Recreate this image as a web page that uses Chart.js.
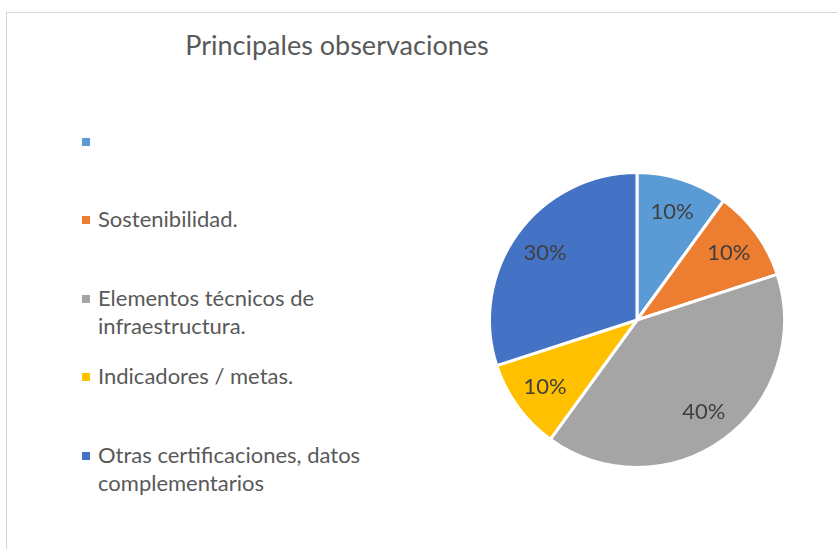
<!DOCTYPE html>
<html>
<head>
<meta charset="utf-8">
<script src="https://cdn.jsdelivr.net/npm/chart.js@4.4.1/dist/chart.umd.min.js"></script>
<style>
    html, body { margin: 0; padding: 0; background: #fff; overflow: hidden; }
    body { width: 837px; height: 549px; position: relative; font-family: Lato, "Noto Sans", sans-serif; color: #595959; }
    .frame { position: absolute; left: 6px; top: 12px; width: 900px; height: 600px; border: 1px solid #d6d6d6; box-sizing: border-box; }
    .title { position: absolute; left: 137px; top: 30px; width: 400px; text-align: center; font-size: 27px; line-height: 30px; }
    .pie-box { position: absolute; left: 478px; top: 161px; width: 318px; height: 318px; }
    .legend-item { position: absolute; left: 98px; font-size: 22px; line-height: 28px; white-space: nowrap; }
    .legend-item i { position: absolute; left: -16px; top: 11px; width: 8px; height: 8px; }
</style>
</head>
<body>
<div class="frame"></div>
<div class="title" id="title"></div>
<div id="legend"></div>
<div class="pie-box"><canvas id="pie"></canvas></div>
<script>
    "use strict";

    const chartTitle = "Principales observaciones";
    const categories = [
        [""],
        ["Sostenibilidad."],
        ["Elementos técnicos de", "infraestructura."],
        ["Indicadores / metas."],
        ["Otras certificaciones, datos", "complementarios"]
    ];
    const percentValues = [10, 10, 40, 10, 30];
    const sliceColors = ["#5B9BD5", "#ED7D31", "#A5A5A5", "#FFC000", "#4472C4"];

    document.getElementById("title").textContent = chartTitle;

    /**
     * HTML legend, one entry per category
     */
    function buildLegend() {
        const box = document.getElementById("legend");
        categories.forEach(function (lines, i) {
            const item = document.createElement("div");
            item.className = "legend-item";
            item.style.top = (141.5 + i * 78.6 - 15) + "px";
            const mark = document.createElement("i");
            mark.style.background = sliceColors[i];
            item.appendChild(mark);
            lines.forEach(function (line, j) {
                if (j > 0) item.appendChild(document.createElement("br"));
                item.appendChild(document.createTextNode(line));
            });
            box.appendChild(item);
        });
    }

    /**
     * Percentage text inside each slice
     */
    const sliceLabels = {
        id: "sliceLabels",
        afterDatasetsDraw: function (chart) {
            const ctx = chart.ctx;
            const meta = chart.getDatasetMeta(0);
            ctx.save();
            ctx.font = "22px Lato";
            ctx.fillStyle = "#404040";
            ctx.textAlign = "center";
            ctx.textBaseline = "middle";
            meta.data.forEach(function (arc, i) {
                const p = arc.getProps(["x", "y", "startAngle", "endAngle", "outerRadius"], true);
                const mid = (p.startAngle + p.endAngle) / 2;
                const r = p.outerRadius * 0.77;
                ctx.fillText(percentValues[i] + "%", p.x + Math.cos(mid) * r, p.y + Math.sin(mid) * r);
            });
            ctx.restore();
        }
    };

    buildLegend();

    new Chart(document.getElementById("pie").getContext("2d"), {
        type: "pie",
        data: {
            labels: categories,
            datasets: [{
                data: percentValues,
                backgroundColor: sliceColors,
                borderColor: "#ffffff",
                borderWidth: 3
            }]
        },
        options: {
            animation: false,
            responsive: true,
            maintainAspectRatio: false,
            layout: { padding: 10 },
            plugins: {
                legend: { display: false },
                tooltip: { enabled: false }
            }
        },
        plugins: [sliceLabels]
    });
</script>
</body>
</html>
